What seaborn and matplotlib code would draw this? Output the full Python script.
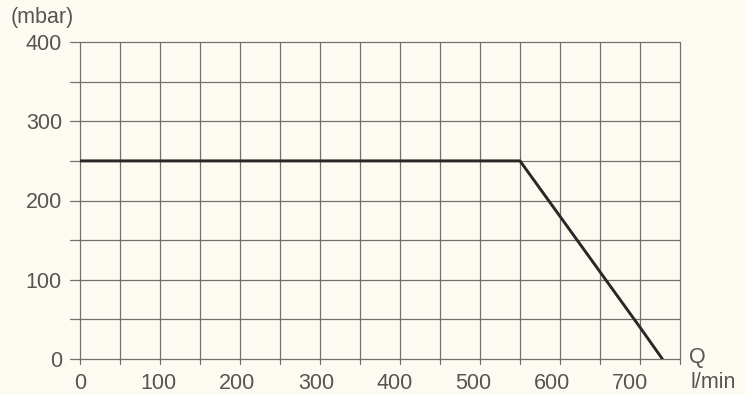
"""Pressure vs flow characteristic (mbar over l/min)"""
import pandas as pd
import matplotlib.pyplot as plt
import matplotlib.transforms as mtransforms
import seaborn as sns

# curve
flow_lmin = [0, 550, 700, 728]
pressure_mbar = [250, 250, 40, 0]

x_ticks = [0, 100, 200, 300, 400, 500, 600, 700]
y_ticks = [0, 100, 200, 300, 400]

BG = '#fdfbf1'
TXT = '#555555'
GRID = '#707070'
FS = 15.5

sns.set_style('white')
plt.rcParams['font.family'] = ['Liberation Sans', 'DejaVu Sans']

df = pd.DataFrame({'Q': flow_lmin, 'p': pressure_mbar})

fig = plt.figure(figsize=(7.46, 3.95), dpi=100, facecolor=BG)
ax = fig.add_axes([80 / 746, 1 - 359 / 395, 600 / 746, 317 / 395])
ax.set_facecolor(BG)

# grid every 50 in both directions, ticks sticking out left and below
for gx in range(0, 751, 50):
    ax.plot([gx, gx], [-6, 400], color=GRID, lw=0.9, clip_on=False, zorder=1)
for gy in range(0, 401, 50):
    ax.plot([-12, 750], [gy, gy], color=GRID, lw=0.9, clip_on=False, zorder=1)

sns.lineplot(data=df, x='Q', y='p', ax=ax, color='#2a2826', lw=2.1, zorder=3)

ax.set_xlim(0, 750)
ax.set_ylim(0, 400)
for s in ax.spines.values():
    s.set_visible(False)
ax.set_xticks(x_ticks)
ax.set_yticks(y_ticks)
ax.set_xticklabels([str(v) for v in x_ticks])
ax.set_yticklabels([str(v) for v in y_ticks])
ax.tick_params(length=0, labelsize=FS, labelcolor=TXT)
ax.tick_params(axis='x', pad=10)
ax.tick_params(axis='y', pad=13)
# printed labels drift a little left of their ticks towards the right end
for v, lab in zip(x_ticks, ax.get_xticklabels()):
    shift = mtransforms.ScaledTranslation(-v * 0.014 / 100, 0, fig.dpi_scale_trans)
    lab.set_transform(lab.get_transform() + shift)
ax.set_xlabel('')
ax.set_ylabel('')

fig.text(11 / 746, 1 - 18 / 395, '(mbar)', fontsize=FS, color=TXT, va='center', ha='left')
fig.text(689 / 746, 1 - 357 / 395, 'Q', fontsize=FS, color=TXT, va='center', ha='left')
fig.text(691 / 746, 1 - 383 / 395, 'l/min', fontsize=FS, color=TXT, va='center', ha='left')

fig.savefig('out.png', dpi=100, facecolor=BG)
plt.close()
